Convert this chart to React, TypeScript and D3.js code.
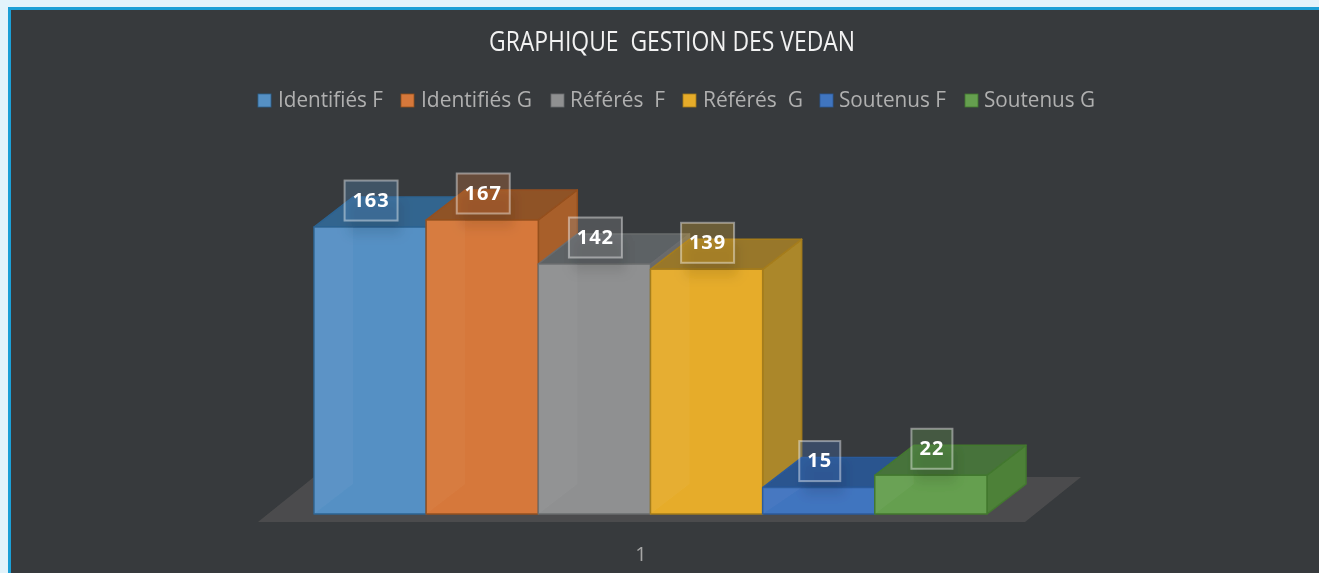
import React from 'react';
import * as d3 from 'd3';

const series = ['Identifiés F', 'Identifiés G', 'Référés  F', 'Référés  G', 'Soutenus F', 'Soutenus G'];
const values = [163, 167, 142, 139, 15, 22];
const category = '1';
const title = 'GRAPHIQUE  GESTION DES VEDAN';

// front, top, side, edge
const fronts = ['#5590c4', '#d6783b', '#8f9091', '#e6ac2a', '#4174bf', '#659f4f'];
const tops = ['#33658f', '#8f5226', '#5d6265', '#98772a', '#29548f', '#46733a'];
const sides = ['#3d6f9b', '#a85f2c', '#6b6b6b', '#ab8729', '#2f5f9c', '#4d8139'];
const edges = ['#2c6391', '#95501f', '#6a6c6e', '#a57c1c', '#2b5a9a', '#43782f'];

// legend swatch x, text x, text width
const legendX = [258, 401, 551, 683, 820, 965];
const legendTextX = [278, 421, 570, 703, 839, 984];
const legendW = [105, 111, 95, 100, 107, 111];

const W = 1319;
const H = 573;
const depthX = 39;
const depthY = 30;
const baseY = 514;

const x = d3.scaleBand<string>().domain(series).range([314, 987]).padding(0);
const y = d3.scaleLinear().domain([0, 167]).range([baseY, 220]);
const line = d3.line();
const pts = (p: [number, number][]) => line(p) + 'Z';
const font = '"Open Sans", "Noto Sans", sans-serif';

export default function App() {
  const bw = x.bandwidth();
  return (
    <div style={{ position: 'fixed', left: 0, top: 0, width: W, height: H, overflow: 'hidden' }}>
      <svg width={W} height={H} style={{ display: 'block' }}>
        <defs>
          <filter id="soft" x="-5%" y="-5%" width="110%" height="110%">
            <feGaussianBlur stdDeviation="0.6" />
          </filter>
          <filter id="shade" x="-30%" y="-30%" width="160%" height="160%">
            <feGaussianBlur stdDeviation="6" />
          </filter>
        </defs>
        <rect width={W} height={H} fill="#e2f3fb" />
        <rect x={8} y={7} width={W} height={H} fill="#1b9fd6" />
        <rect x={11} y={10} width={W} height={H} fill="#373a3d" />

        <g filter="url(#soft)">
          <text x={672} y={51} textAnchor="middle" fontFamily={font} fontSize={27} fill="#f2f2f2"
            textLength={366} lengthAdjust="spacingAndGlyphs" style={{ whiteSpace: 'pre' }}>{title}</text>

          {series.map((s, i) => (
            <g key={s}>
              <rect x={legendX[i]} y={94} width={13} height={13} fill={fronts[i]} stroke={edges[i]} strokeWidth={0.8} />
              <text x={legendTextX[i]} y={107} fontFamily={font} fontSize={22} fill="#b0b0b0"
                textLength={legendW[i]} lengthAdjust="spacingAndGlyphs" style={{ whiteSpace: 'pre' }}>{s}</text>
            </g>
          ))}

          {/* floor */}
          <path d={pts([[258, 522], [1025, 522], [1081, 477], [314, 477]])} fill="#4c4c4d" />

          {series.map((s, i) => {
            const x0 = x(s)!;
            const x1 = x0 + bw;
            const top = y(values[i]);
            return (
              <g key={s} stroke={edges[i]} strokeWidth={1.5} strokeLinejoin="round">
                <path d={pts([[x1, top], [x1 + depthX, top - depthY], [x1 + depthX, baseY - depthY], [x1, baseY]])} fill={sides[i]} />
                <path d={pts([[x0, top], [x0 + depthX, top - depthY], [x1 + depthX, top - depthY], [x1, top]])} fill={tops[i]} />
                <rect x={x0} y={top} width={bw} height={baseY - top} fill={fronts[i]} />
                {/* inner wall seen through the glass front */}
                <path d={pts([[x0, baseY], [x0 + depthX, Math.max(baseY - depthY, top)], [x0 + depthX, top], [x0, top]])}
                  fill="#fff" fillOpacity={0.035} stroke="none" />
              </g>
            );
          })}

          {series.map((s, i) => {
            const cx = x(s)! + bw / 2 + 1;
            const cy = y(values[i]) - 26.5;
            const w = values[i] < 100 ? 41 : 53;
            return (
              <g key={s}>
                <rect x={cx - w / 2 + 4} y={cy} width={w} height={34} fill="#000" fillOpacity={0.1} filter="url(#shade)" />
                <rect x={cx - w / 2} y={cy - 20} width={w} height={40} fill={fronts[i]} fillOpacity={0.3}
                  stroke="#fff" strokeOpacity={0.42} strokeWidth={2} />
                <text x={cx} y={cy + 6} textAnchor="middle" fontFamily={font} fontWeight={700} fontSize={20} letterSpacing={1} fill="#fff">{values[i]}</text>
              </g>
            );
          })}

          <text x={641} y={561} textAnchor="middle" fontFamily={font} fontSize={20} fill="#a6a6a6">{category}</text>
        </g>
      </svg>
    </div>
  );
}
